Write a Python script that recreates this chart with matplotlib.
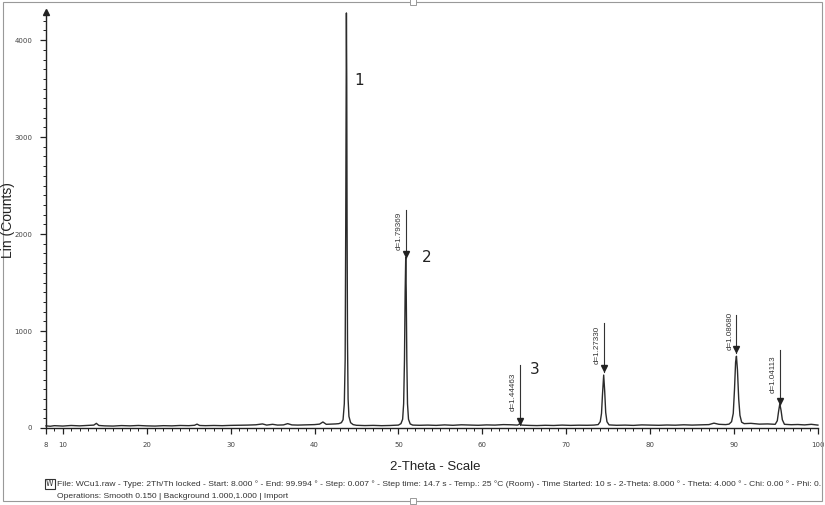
import matplotlib
matplotlib.use("Agg")
import matplotlib.pyplot as plt
from matplotlib.patches import Rectangle
from matplotlib.ticker import MultipleLocator

# ---- data ----
two_theta = [
    8.0, 8.5, 9.0, 10.0, 11.0, 12.0, 13.0, 13.7, 14.0, 14.3, 15.0, 16.0, 17.0, 18.0, 19.0,
    20.0, 21.0, 22.0, 23.0, 24.0, 25.0, 25.7, 26.0, 26.3, 27.0, 28.0, 29.0, 30.0, 31.0,
    32.0, 33.0, 33.8, 34.3, 35.0, 35.6, 36.3, 36.8, 37.3, 38.0, 39.0, 40.0, 40.6, 41.0,
    41.4, 42.0, 42.5, 42.9, 43.2, 43.4, 43.55, 43.65, 43.72, 43.77, 43.8, 43.84, 43.88,
    43.93, 44.0, 44.1, 44.3, 44.6, 45.0, 46.0, 47.0, 48.0, 49.0, 50.0, 50.3, 50.5, 50.62,
    50.72, 50.8, 50.87, 50.93, 51.0, 51.08, 51.2, 51.4, 51.7, 52.5, 53.5, 54.5, 55.5,
    56.5, 57.5, 58.5, 59.5, 60.5, 61.5, 62.5, 63.5, 64.2, 64.44, 64.7, 65.5, 66.5, 67.5,
    68.5, 69.5, 70.5, 71.5, 72.5, 73.3, 73.8, 74.05, 74.2, 74.32, 74.46, 74.58, 74.7,
    74.85, 75.1, 76.0, 77.0, 78.0, 79.0, 80.0, 81.0, 82.0, 83.0, 84.0, 85.0, 86.0, 87.0,
    87.6, 88.2, 89.0, 89.4, 89.7, 89.9, 90.05, 90.18, 90.28, 90.4, 90.55, 90.7, 90.9,
    91.2, 92.0, 93.0, 94.0, 94.9, 95.15, 95.3, 95.45, 95.6, 95.75, 96.0, 96.8, 97.6,
    98.4, 99.2, 99.99,
]
counts = [
    22, 18, 24, 20, 26, 22, 27, 30, 48, 26, 22, 20, 25, 22, 26,
    22, 20, 24, 22, 26, 24, 28, 40, 26, 24, 26, 24, 27, 28,
    30, 33, 42, 30, 38, 30, 32, 45, 32, 30, 32, 35, 40, 62,
    38, 40, 42, 45, 55, 85, 250, 700, 2100, 3700, 4280, 3600, 2100,
    900, 300, 120, 55, 35, 28, 25, 27, 24, 26, 30, 45, 90, 250,
    700, 1400, 1760, 1400, 700, 250, 90, 42, 30, 28, 30, 27, 32,
    28, 33, 30, 28, 32, 30, 35, 33, 30, 42, 30, 27, 25, 28,
    26, 30, 27, 29, 28, 30, 35, 65, 150, 350, 546, 380, 160,
    65, 32, 28, 30, 27, 32, 30, 28, 31, 29, 33, 30, 32, 35,
    50, 38, 35, 40, 65, 150, 400, 680, 740, 600, 300, 130, 60,
    45, 48, 40, 42, 38, 75, 170, 250, 180, 85, 38, 34, 36,
    32, 38, 30,
]

# d-spacing markers
mark_2theta = [50.87, 64.44, 74.46, 90.28, 95.45]
mark_labels = ["d=1.79369", "d=1.44463", "d=1.27330", "d=1.08680", "d=1.04113"]
mark_tip = [1750, 30, 575, 770, 240]
mark_top = [2250, 650, 1085, 1165, 805]

peak_numbers = ["1", "2", "3"]
peak_number_xy = [(44.8, 3580), (52.8, 1760), (65.6, 600)]

x_ticks = [8, 10, 20, 30, 40, 50, 60, 70, 80, 90, 100]
y_ticks = [0, 1000, 2000, 3000, 4000]

footer1 = ("File: WCu1.raw - Type: 2Th/Th locked - Start: 8.000 \u00b0 - End: 99.994 \u00b0 - "
           "Step: 0.007 \u00b0 - Step time: 14.7 s - Temp.: 25 \u00b0C (Room) - Time Started: 10 s - "
           "2-Theta: 8.000 \u00b0 - Theta: 4.000 \u00b0 - Chi: 0.00 \u00b0 - Phi: 0.")
footer2 = "Operations: Smooth 0.150 | Background 1.000,1.000 | Import"

# ---- figure ----
W, H = 825, 505
fig = plt.figure(figsize=(W / 100, H / 100), dpi=100)
fig.patch.set_facecolor("white")

ax_left, ax_right = 46 / W, 818 / W
ax_bottom, ax_top = 1 - 428 / H, 1 - 12 / H
ax = fig.add_axes([ax_left, ax_bottom, ax_right - ax_left, ax_top - ax_bottom])

line_col = "#2b2b2b"
ax.plot(two_theta, counts, color=line_col, lw=1.0, clip_on=False)

ax.set_xlim(8, 100)
ax.set_ylim(0, 4290)

for s in ["top", "right"]:
    ax.spines[s].set_visible(False)
for s in ["left", "bottom"]:
    ax.spines[s].set_color("#222222")
    ax.spines[s].set_linewidth(1.0)

ax.set_xticks(x_ticks)
ax.set_xticklabels([str(t) for t in x_ticks])
ax.set_yticks(y_ticks)
ax.set_yticklabels([str(t) for t in y_ticks])
ax.xaxis.set_minor_locator(MultipleLocator(1))
ax.yaxis.set_minor_locator(MultipleLocator(100))
ax.tick_params(axis="both", which="major", direction="out", length=4.5, width=0.9,
               labelsize=5, colors="#222222", pad=5.5)
ax.tick_params(axis="both", which="minor", direction="out", length=2.2, width=0.7,
               colors="#222222")
for lab in ax.get_xticklabels() + ax.get_yticklabels():
    lab.set_color("#444444")

# arrow at top of y axis
ax.plot([8], [4290], marker="^", color="#222222", markersize=4, clip_on=False)

# d-spacing markers
for x, lab, tip, top in zip(mark_2theta, mark_labels, mark_tip, mark_top):
    ax.plot([x, x], [tip, top], color="#333333", lw=0.8)
    ax.plot([x], [tip + 40], marker="v", color="#222222", markersize=4)
    ax.text(x - 0.8, (tip + top) / 2 + 30, lab, rotation=90, fontsize=5.8,
            ha="center", va="center", color="#333333", family="Liberation Sans")

for t, (px, py) in zip(peak_numbers, peak_number_xy):
    ax.text(px, py, t, fontsize=11, ha="left", va="center", color="#222222",
            family="DejaVu Sans")

ax.set_xlabel("")
ax.set_ylabel("")
fig.text(8 / W, 1 - 220 / H, "Lin (Counts)", rotation=90, fontsize=10,
         ha="center", va="center", family="Liberation Sans", color="#222222")
fig.text(435 / W, 1 - 467 / H, "2-Theta - Scale", fontsize=9.5,
         ha="center", va="center", family="Liberation Sans", color="#222222")

# footer
fig.text(57 / W, 1 - 484 / H, footer1, fontsize=6.1, ha="left", va="center",
         family="Liberation Sans", color="#333333")
fig.text(57 / W, 1 - 497 / H, footer2, fontsize=6.1, ha="left", va="center",
         family="Liberation Sans", color="#333333")
fig.patches.append(Rectangle((45 / W, 1 - 489 / H), 10 / W, 10 / H, transform=fig.transFigure,
                             fill=False, edgecolor="#333333", lw=0.8))
fig.text(50 / W, 1 - 484 / H, "W", fontsize=5.5, ha="center", va="center",
         color="#333333", family="DejaVu Sans")

# outer frame
fig.patches.append(Rectangle((3 / W, 1 - 501 / H), 819 / W, 499 / H, transform=fig.transFigure,
                             fill=False, edgecolor="#999999", lw=0.8))
for hx, hy in [(413, 2), (413, 501)]:
    fig.patches.append(Rectangle(((hx - 3) / W, 1 - (hy + 3) / H), 6 / W, 6 / H,
                                 transform=fig.transFigure, facecolor="white",
                                 edgecolor="#999999", lw=0.7))

fig.savefig("out.png", dpi=100)
